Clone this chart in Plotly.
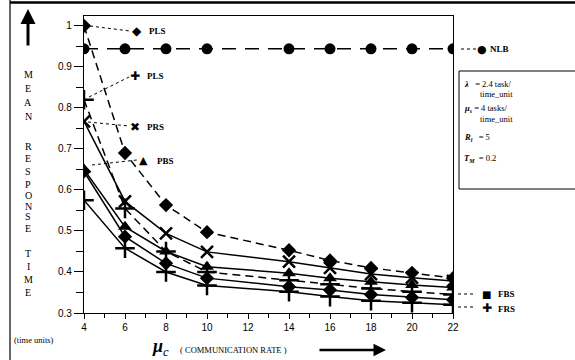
import plotly.graph_objects as go

# ---- data ----
mu_c = [4, 6, 8, 10, 14, 16, 18, 20, 22]
pls_diamond = [1.0, 0.69, 0.563, 0.497, 0.453, 0.428, 0.41, 0.398, 0.385]
nlb = [0.944, 0.944, 0.944, 0.944, 0.944, 0.944, 0.944, 0.944, 0.944]
pls_plus = [0.82, 0.555, 0.45, 0.40, 0.38, 0.37, 0.36, 0.352, 0.345]
prs = [0.767, 0.572, 0.494, 0.449, 0.425, 0.41, 0.395, 0.386, 0.378]
pbs = [0.65, 0.51, 0.45, 0.413, 0.397, 0.385, 0.376, 0.368, 0.362]
fbs = [0.645, 0.486, 0.421, 0.385, 0.364, 0.356, 0.345, 0.338, 0.332]
frs = [0.575, 0.458, 0.40, 0.367, 0.352, 0.34, 0.33, 0.325, 0.32]

x_ticks = [4, 6, 8, 10, 12, 14, 16, 18, 20, 22]
y_ticks = [0.3, 0.4, 0.5, 0.6, 0.7, 0.8, 0.9, 1.0]
y_ticktext = ["0.3", "0.4", "0.5", "0.6", "0.7", "0.8", "0.9", "1"]

W, H = 575, 360
L, R, T, B = 84, 453, 16, 313


def px(x):
    return (x - L) / (R - L)


def py(y):
    return (B - y) / (B - T)


fig = go.Figure()

series = [
    (pls_diamond, "diamond", 11, "8px,5px", 0),
    (nlb, "circle", 11, "14px,9px", 0),
    (pls_plus, "cross-thin", 14, "8px,5px", 2.5),
    (prs, "x-thin", 12, "solid", 2.5),
    (pbs, "triangle-up", 12, "solid", 0),
    (fbs, "diamond", 11, "solid", 0),
    (frs, "cross-thin", 14, "solid", 2.5),
]
for ys, sym, size, dash, lw in series:
    fig.add_trace(go.Scatter(
        x=mu_c, y=ys, mode="lines+markers", cliponaxis=True,
        line=dict(color="black", width=1.5, dash=dash),
        marker=dict(symbol=sym, size=size, color="black",
                    line=dict(color="black", width=lw)),
        showlegend=False,
    ))

fig.update_xaxes(
    range=[4, 22], tickvals=x_ticks, ticks="outside", ticklen=5, tickwidth=1,
    tickcolor="black", showline=True, linecolor="black", linewidth=1.2,
    mirror=True, showgrid=False, zeroline=False,
    minor=dict(dtick=1, ticks="outside", ticklen=4, tickcolor="black", showgrid=False),
    tickfont=dict(family="Liberation Sans", size=10, color="black"),
)
fig.update_yaxes(
    range=[0.3, 1.024], tickvals=y_ticks, ticktext=y_ticktext, ticks="outside",
    ticklen=9, tickwidth=1, tickcolor="black", showline=True, linecolor="black",
    linewidth=1.2, mirror=True, showgrid=False, zeroline=False,
    minor=dict(dtick=0.05, ticks="outside", ticklen=7, tickcolor="black", showgrid=False),
    tickfont=dict(family="Liberation Sans", size=10, color="black"),
)

shapes = []
annotations = []
serif = "Liberation Serif"


def leader(x0, y0, x1, y1):
    shapes.append(dict(type="line", xref="paper", yref="paper",
                       x0=px(x0), y0=py(y0), x1=px(x1), y1=py(y1),
                       line=dict(color="black", width=1, dash="dot")))


def text(x, y, s, size=9, anchor="left", family=serif, color="black"):
    annotations.append(dict(xref="paper", yref="paper", x=px(x), y=py(y),
                            text=s, showarrow=False, xanchor=anchor, yanchor="middle",
                            font=dict(family=family, size=size, color=color)))


# in-plot labels
leader(90, 26, 130, 31)
text(137, 31, "◆", 12, "center", "DejaVu Sans")
text(147, 31, "<b>PLS</b>", 9)
leader(89, 97, 129, 77)
text(135, 76, "✚", 12, "center", "DejaVu Sans")
text(145, 76, "<b>PLS</b>", 9)
leader(88, 122, 129, 126)
text(135, 127, "✖", 12, "center", "DejaVu Sans")
text(145, 127, "<b>PRS</b>", 9)
leader(92, 165, 137, 160)
text(143, 160, "▲", 11, "center", "DejaVu Sans")
text(155, 161, "<b>PBS</b>", 9)

# right side labels
leader(461, 49, 477, 49)
text(482, 49, "●", 11, "center", "DejaVu Sans")
text(488, 49, "<b>NLB</b>", 9)
leader(458, 294, 474, 294)
text(486, 294, "■", 10, "center", "DejaVu Sans")
text(496, 294, "<b>FBS</b>", 9)
leader(458, 307, 476, 307)
text(487, 308, "✚", 12, "center", "DejaVu Sans")
text(496, 309, "<b>FRS</b>", 9)

# parameter box
shapes.append(dict(type="rect", xref="paper", yref="paper",
                   x0=px(459), y0=py(189), x1=px(577), y1=py(71),
                   line=dict(color="black", width=1)))
text(462, 84, "<b><i>λ</i></b>   = 2.4 task/", 8.5)
text(478, 94, "time_unit", 8.5)
text(462, 108, "<b><i>μ<sub>s</sub></i></b> = 4 tasks/", 8.5)
text(478, 119, "time_unit", 8.5)
text(462, 137, "<b><i>R<sub>l</sub></i></b>   = 5", 8.5)
text(462, 158, "<b><i>T<sub>M</sub></i></b>  = 0.2", 8.5)

# outer frame
shapes.append(dict(type="line", xref="paper", yref="paper",
                   x0=px(10), y0=py(2.5), x1=px(576), y1=py(2.5),
                   line=dict(color="black", width=2.5)))
shapes.append(dict(type="line", xref="paper", yref="paper",
                   x0=px(10), y0=py(0), x1=px(10), y1=py(360),
                   line=dict(color="black", width=1.2)))

# vertical y title letters
letters = [("M", 74), ("E", 88), ("A", 102), ("N", 116),
           ("R", 146), ("E", 158), ("S", 171), ("P", 184), ("O", 195),
           ("N", 206), ("S", 217), ("E", 228),
           ("T", 253), ("I", 266), ("M", 279), ("E", 292)]
for ch, yy in letters:
    text(28, yy, ch, 10, "center")

# up arrow
annotations.append(dict(xref="paper", yref="paper", x=px(28), y=py(9),
                        ax=0, ay=38, showarrow=True, arrowhead=2, arrowsize=1,
                        arrowwidth=3, arrowcolor="black", text=""))
# right arrow
annotations.append(dict(xref="paper", yref="paper", x=px(386), y=py(350),
                        ax=-68, ay=0, showarrow=True, arrowhead=2, arrowsize=1,
                        arrowwidth=2.5, arrowcolor="black", text=""))

text(12, 340, "(time units)", 8.5)
text(150, 347, "<b><i>μ</i></b><i><sub>c</sub></i>", 18)
text(178, 350, "( COMMUNICATION RATE )", 8.5)

fig.update_layout(
    width=W, height=H,
    margin=dict(l=L, r=W - R, t=T, b=H - B),
    paper_bgcolor="white", plot_bgcolor="white",
    shapes=shapes, annotations=annotations, showlegend=False,
)

fig.write_html("out.html", config={"displayModeBar": False},
               post_script="document.body.style.margin='0';document.body.style.overflow='hidden';")
